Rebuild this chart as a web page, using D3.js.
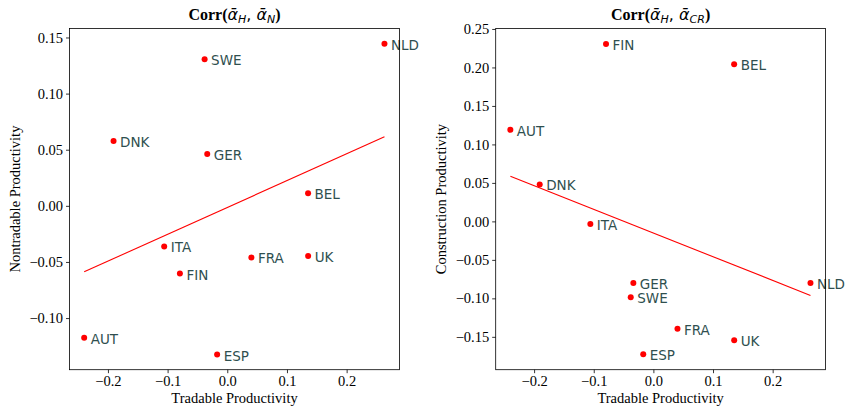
<!DOCTYPE html>
<html>
<head>
<meta charset="utf-8">
<script src="https://d3js.org/d3.v7.min.js"></script>
<style>
  body { margin: 0; background: #fff; }
  text { fill: #000; }
</style>
</head>
<body>
<svg id="chart" width="847" height="408"></svg>
<script>
// country codes shared by both panels
var countries = ["NLD", "SWE", "DNK", "GER", "BEL", "ITA", "FRA", "UK", "FIN", "AUT", "ESP"];
// tradable productivity (x, same in both panels)
var tradable = [0.2634, -0.038, -0.1906, -0.0336, 0.1354, -0.1057, 0.0404, 0.1355, -0.0794, -0.2398, -0.0170];
// nontradable productivity (left panel y)
var nontradable = [0.1444, 0.1307, 0.0577, 0.0461, 0.0113, -0.0362, -0.0460, -0.0446, -0.0603, -0.1176, -0.1325];
// construction productivity (right panel y)
var construction = [-0.0801, -0.0987, 0.0480, -0.0801, 0.2043, -0.0035, -0.1394, -0.1545, 0.2306, 0.1190, -0.1727];

var xTicks = [-0.2, -0.1, 0.0, 0.1, 0.2];
var yTicksLeft = [-0.10, -0.05, 0.00, 0.05, 0.10, 0.15];
var yTicksRight = [-0.15, -0.10, -0.05, 0.00, 0.05, 0.10, 0.15, 0.20, 0.25];

var panels = [
    {left: 69.5, right: 399.5, sub: "N", ylabel: "Nontradable Productivity",
     ys: nontradable, yDomain: [-0.146, 0.158], yTicks: yTicksLeft},
    {left: 495.7, right: 825.5, sub: "CR", ylabel: "Construction Productivity",
     ys: construction, yDomain: [-0.1927, 0.2506], yTicks: yTicksRight}
];
var plotTop = 28.5, plotBottom = 369.7;

var svg = d3.select("#chart");
var serif = "'Liberation Serif', 'Times New Roman', serif";
var sans = "'DejaVu Sans', sans-serif";

panels.forEach(function(p) {
    var x = d3.scaleLinear().domain([-0.2644, 0.2886]).range([p.left, p.right]);
    var y = d3.scaleLinear().domain(p.yDomain).range([plotBottom, plotTop]);
    var g = svg.append("g");

    var pts = countries.map(function(c, i) { return {name: c, x: tradable[i], y: p.ys[i]}; });

    // least squares fit
    var mx = d3.mean(pts, d => d.x), my = d3.mean(pts, d => d.y);
    var sxy = d3.sum(pts, d => (d.x - mx) * (d.y - my));
    var sxx = d3.sum(pts, d => (d.x - mx) * (d.x - mx));
    var b = sxy / sxx, a = my - b * mx;
    var xe = d3.extent(pts, d => d.x);
    g.append("line")
        .attr("x1", x(xe[0])).attr("y1", y(a + b * xe[0]))
        .attr("x2", x(xe[1])).attr("y2", y(a + b * xe[1]))
        .attr("stroke", "#ff0000").attr("stroke-width", 1.1);

    g.selectAll("circle").data(pts).enter().append("circle")
        .attr("cx", d => x(d.x)).attr("cy", d => y(d.y))
        .attr("r", 3).attr("fill", "#ff0000");

    g.selectAll(".lbl").data(pts).enter().append("text")
        .attr("class", "lbl")
        .attr("x", d => x(d.x) + 6.5).attr("y", d => y(d.y) + 6)
        .style("font-family", sans).style("font-size", "13.5px")
        .style("fill", "#2f4f4f")
        .text(d => d.name);

    // axes
    var xAxis = g.append("g").attr("transform", "translate(0," + plotBottom + ")")
        .call(d3.axisBottom(x).tickValues(xTicks).tickFormat(d3.format(".1f")).tickSizeOuter(0).tickSize(3.5).tickPadding(3));
    var yAxis = g.append("g").attr("transform", "translate(" + p.left + ",0)")
        .call(d3.axisLeft(y).tickValues(p.yTicks).tickFormat(d3.format(".2f")).tickSizeOuter(0).tickSize(3.5).tickPadding(3));
    [xAxis, yAxis].forEach(function(ax) {
        ax.select(".domain").remove();
        ax.selectAll("line").attr("stroke", "#000").attr("stroke-width", 0.8);
        ax.selectAll("text").style("font-family", serif).style("font-size", "14.5px").attr("fill", "#000");
    });

    g.append("rect")
        .attr("x", p.left).attr("y", plotTop)
        .attr("width", p.right - p.left).attr("height", plotBottom - plotTop)
        .attr("fill", "none").attr("stroke", "#000").attr("stroke-width", 0.8);

    var cx = (p.left + p.right) / 2;
    g.append("text").attr("x", cx).attr("y", 403)
        .attr("text-anchor", "middle")
        .style("font-family", serif).style("font-size", "14.5px")
        .text("Tradable Productivity");

    g.append("text")
        .attr("transform", "translate(" + (p.left - 49.5) + "," + ((plotTop + plotBottom) / 2) + ") rotate(-90)")
        .attr("text-anchor", "middle")
        .style("font-family", serif).style("font-size", "14.5px")
        .text(p.ylabel);

    // title: Corr(ᾱ_H, ᾱ_X)
    var t = g.append("text").attr("x", cx).attr("y", 20)
        .attr("text-anchor", "middle").style("font-size", "16px");
    t.append("tspan").style("font-family", serif).style("font-weight", "bold").text("Corr(");
    t.append("tspan").style("font-family", sans).style("font-style", "italic").text("ᾱ");
    t.append("tspan").style("font-family", sans).style("font-style", "italic")
        .style("font-size", "11px").attr("dy", 3).text("H");
    t.append("tspan").style("font-family", sans).attr("dy", -3).text(", ");
    t.append("tspan").style("font-family", sans).style("font-style", "italic").text("ᾱ");
    t.append("tspan").style("font-family", sans).style("font-style", "italic")
        .style("font-size", "11px").attr("dy", 3).text(p.sub);
    t.append("tspan").style("font-family", serif).style("font-weight", "bold").attr("dy", -3).text(")");
});
</script>
</body>
</html>
